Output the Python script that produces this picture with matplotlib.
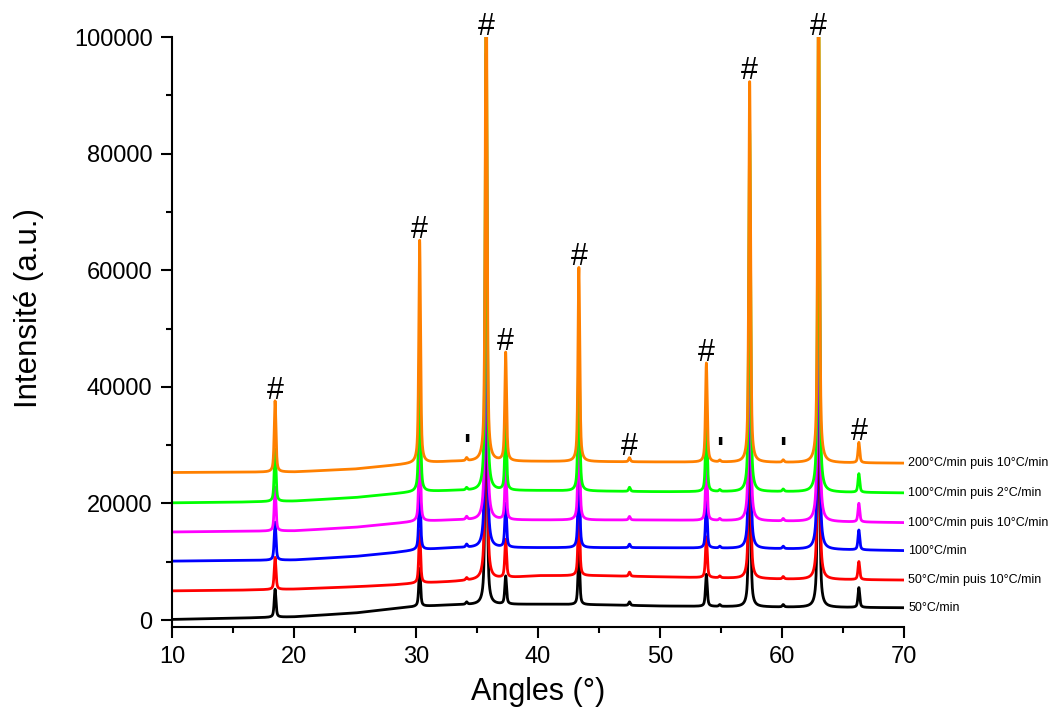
import numpy as np
import matplotlib
matplotlib.use('Agg')
import matplotlib.pyplot as plt

plt.rcParams['font.family'] = ['Liberation Sans', 'DejaVu Sans']

# ===========================================================
# DATA

series_names = ['50°C/min', '50°C/min puis 10°C/min', '100°C/min',
                '100°C/min puis 10°C/min', '100°C/min puis 2°C/min',
                '200°C/min puis 10°C/min']
series_colors = ['black', 'red', 'blue', 'magenta', '#00FF00', '#FF8000']

# baseline anchor angles and baseline level of each pattern (counts)
base_angles = [10, 15, 20, 25, 28, 30, 33, 40, 45, 50, 60, 70]
base_black = [100, 300, 550, 1200, 1900, 2300, 2600, 2700, 2600, 2400, 2200, 2100]
base_red = [5000, 5100, 5300, 5700, 6000, 6300, 6600, 7600, 7600, 7400, 7000, 6850]
base_blue = [10100, 10200, 10300, 10900, 11500, 12000, 12400, 12400, 12400, 12400, 12200, 11900]
base_magenta = [15100, 15200, 15300, 15900, 16500, 16900, 17150, 17150, 17150, 17150, 16950, 16700]
base_green = [20100, 20200, 20400, 21000, 21600, 22000, 22200, 22200, 22100, 22000, 22000, 21800]
base_orange = [25300, 25350, 25400, 25900, 26500, 26900, 27200, 27200, 27150, 27100, 27000, 26900]
baselines = [base_black, base_red, base_blue, base_magenta, base_green, base_orange]

# reflections: position (deg) and height above baseline for each pattern
peak_pos = [18.45, 30.3, 34.15, 35.75, 37.35, 43.35, 47.5, 53.8, 54.9, 57.35, 60.1, 63.0, 66.3]
h_black = [4800, 6500, 400, 60000, 4800, 9000, 600, 5500, 300, 40000, 400, 60000, 3400]
h_red = [5500, 9000, 400, 70000, 6500, 12000, 700, 7000, 300, 45000, 400, 66000, 3100]
h_blue = [6500, 11000, 500, 75000, 7500, 15000, 600, 8000, 300, 50000, 400, 70000, 3400]
h_magenta = [7500, 15000, 500, 80000, 9000, 20000, 600, 10000, 300, 55000, 400, 75000, 3200]
h_green = [9000, 25000, 400, 85000, 12000, 25000, 700, 13000, 300, 62000, 400, 85000, 3200]
h_orange = [12200, 38200, 500, 90000, 18600, 33300, 700, 17000, 300, 65300, 400, 90000, 3500]
heights = [h_black, h_red, h_blue, h_magenta, h_green, h_orange]

# '#' marked reflections and the small ' marks
hash_pos = [18.45, 30.3, 35.75, 37.35, 43.35, 47.5, 53.8, 57.35, 63.0, 66.3]
tick_mark_pos = [34.15, 54.9, 60.1]

# ===========================================================
angles = np.arange(10.0, 70.0, 0.01)


def pattern(base, hts, fwhm=0.17, eta=0.6):
    y = np.interp(angles, base_angles, base)
    g = fwhm / 2.0
    for p, h in zip(peak_pos, hts):
        dx = angles - p
        lor = g**2 / (dx**2 + g**2)
        gau = np.exp(-np.log(2) * (dx / g)**2)
        y = y + h * (eta * lor + (1 - eta) * gau)
    return y


fig = plt.figure(figsize=(10.51, 7.20), dpi=100)
ax = fig.add_axes([172/1051, 1-627/720, 732/1051, 590/720])

curves = []
for base, hts, col in zip(baselines, heights, series_colors):
    y = pattern(base, hts)
    curves.append(y)
    ax.plot(angles, y, '-', color=col, linewidth=2.0)

# labels at the right end of each pattern
for y, name in zip(curves, series_names):
    ax.text(70.35, y[-1], name, fontsize=9, ha='left', va='center',
            clip_on=False)

# '#' over the main reflections
top = curves[-1]
for p in hash_pos:
    yp = min(top[np.argmin(np.abs(angles - p))], 100000)
    ax.text(p, yp + 400, '#', fontsize=22, ha='center', va='baseline',
            clip_on=False)

for p in tick_mark_pos:
    yb = top[np.argmin(np.abs(angles - p - 0.6))]
    ax.text(p, yb + 1900, "'", fontsize=22, fontweight='bold',
            family=['DejaVu Sans'], ha='center', va='center')

ax.set_xlim(10, 70)
ax.set_ylim(-1200, 100000)
ax.set_xticks(np.arange(10, 71, 10))
ax.set_xticks(np.arange(15, 70, 10), minor=True)
ax.set_yticks(np.arange(0, 100001, 20000))
ax.set_yticks(np.arange(10000, 100000, 20000), minor=True)

for s in ['top', 'right']:
    ax.spines[s].set_visible(False)
for s in ['left', 'bottom']:
    ax.spines[s].set_linewidth(1.5)

ax.tick_params(which='major', direction='out', length=8, width=1.5,
               labelsize=17, pad=6)
ax.tick_params(which='minor', direction='out', length=4.5, width=1.5)

ax.set_xlabel('Angles (°)', fontsize=22, labelpad=6)
ax.set_ylabel('Intensité (a.u.)', fontsize=22.5)
ax.yaxis.set_label_coords(-0.175, 0.541)

fig.savefig('out.png', dpi=100)
